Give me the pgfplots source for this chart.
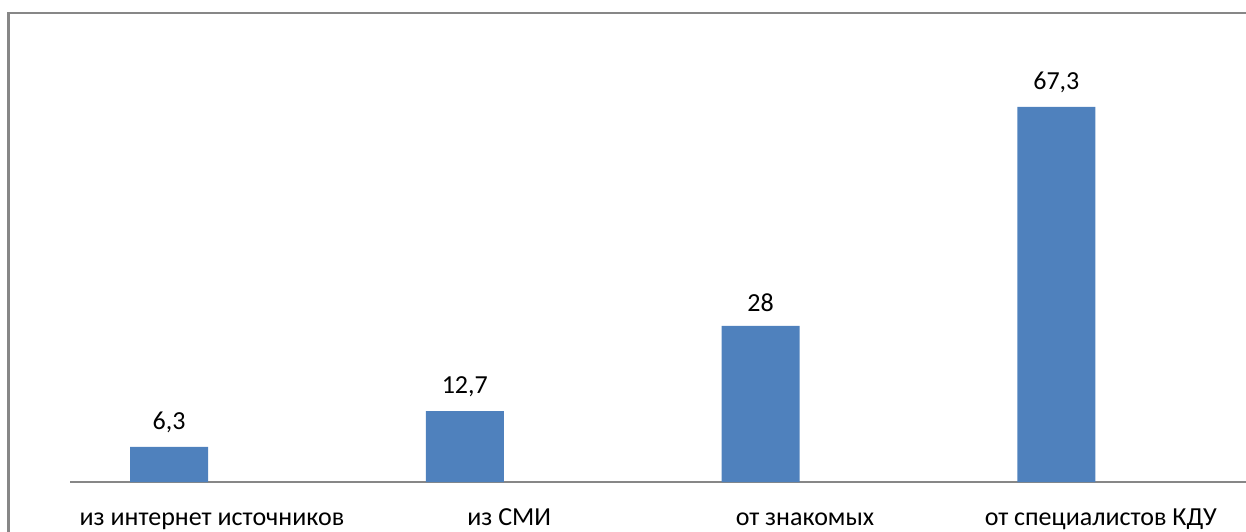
\documentclass[border=0pt]{standalone}
\usepackage{fontspec}
\setmainfont{Carlito}
\usepackage{pgfplots}
\pgfplotsset{compat=1.18}
\definecolor{barblue}{HTML}{4F81BD}
\definecolor{framegray}{HTML}{878787}
\begin{document}
\begin{tikzpicture}[x=1pt,y=1pt]
\path[use as bounding box] (0,0) rectangle (1246,531);
% outer chart frame (cut by the picture edges)
\draw[framegray, line width=2.2pt] (8.5,-20) -- (8.5,518) -- (1280,518);
\begin{axis}[
    at={(70pt,49pt)}, anchor=south west,
    scale only axis,
    width=1176pt, height=445.8pt,
    xmin=-0.3347, xmax=3.641,
    ymin=0, ymax=80,
    ybar,
    bar width=78pt,
    axis x line=bottom,
    hide y axis,
    axis line style={draw=framegray, line width=2pt, -},
    major tick length=0pt,
    xtick={0.145,1.15,2.15,3.15},
    xticklabels={из интернет источников, из СМИ, от знакомых, от специалистов КДУ},
    xticklabel style={anchor=base, yshift=-43pt},
    font=\fontsize{26}{31}\selectfont,
    /pgf/number format/assume math mode=true,
    /pgf/number format/use comma,
    /pgf/number format/fixed,
    /pgf/number format/precision=1,
    nodes near coords,
    every node near coord/.append style={yshift=11pt},
]
\addplot[fill=barblue, draw=none] coordinates {
    (0,6.3)
    (1,12.7)
    (2,28)
    (3,67.3)
};
\end{axis}
\end{tikzpicture}
\end{document}
